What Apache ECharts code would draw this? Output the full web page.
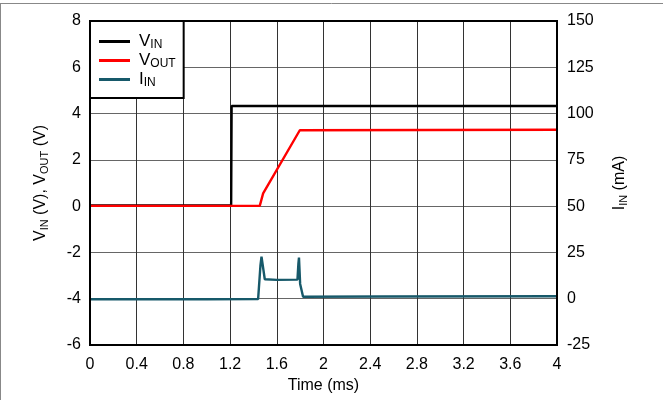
<!DOCTYPE html>
<html>
<head>
<meta charset="utf-8">
<script src="https://cdn.jsdelivr.net/npm/echarts@6/dist/echarts.min.js"></script>
<style>html,body{margin:0;padding:0;background:#fff}#c{width:663px;height:400px}</style>
</head>
<body>
<div id="c"></div>
<script>
// Time breakpoints (ms) and values
var vinTime = [0, 1.209, 1.213, 4];
var vinVal  = [0.03, 0.03, 4.33, 4.33];

var voutTime = [0, 1.454, 1.483, 1.797, 1.81, 4];
var voutVal  = [0.01, 0.01, 0.55, 3.28, 3.3, 3.3];

var iinTime = [0, 1.0, 1.44, 1.46, 1.469, 1.497, 1.6, 1.777, 1.785, 1.79, 1.80, 1.825, 2.5, 4];
var iinVal  = [-0.3, -0.3, -0.2, 18, 22.7, 10.5, 10.2, 10.3, 19, 22.2, 8, 1.1, 1.2, 1.3];

var xTicks = [0, 0.4, 0.8, 1.2, 1.6, 2, 2.4, 2.8, 3.2, 3.6, 4];

function pairs(t, v) { return t.map(function (x, i) { return [x, v[i]]; }); }

var FONT = 'Liberation Sans, Arial, sans-serif';
var sub = { fontSize: 11, fontFamily: FONT, color: '#000', verticalAlign: 'bottom', lineHeight: 13 };
var subLeg = { fontSize: 12, fontFamily: FONT, color: '#000', verticalAlign: 'bottom', lineHeight: 14 };

var chart = echarts.init(document.getElementById('c'), null, { renderer: 'canvas' });
chart.setOption({
  animation: false,
  backgroundColor: '#fff',
  grid: { left: 90, right: 106, top: 21, bottom: 55, show: true, borderColor: '#000', borderWidth: 2, backgroundColor: 'transparent', z: 3 },
  legend: {
    left: 90, top: 21, orient: 'vertical',
    backgroundColor: '#fff', borderColor: '#000', borderWidth: 2, borderRadius: 0,
    padding: [11, 8, 9, 9], itemGap: 0,
    itemWidth: 31, itemHeight: 3, icon: 'rect',
    formatter: function (n) { return { 'VIN': 'V{s|IN}', 'VOUT': 'V{s|OUT}', 'IIN': 'I{s|IN}' }[n]; },
    textStyle: { fontSize: 17, fontFamily: FONT, color: '#000', lineHeight: 19, padding: [0, 0, 0, 4], rich: { s: subLeg } },
    data: ['VIN', 'VOUT', 'IIN']
  },
  xAxis: {
    type: 'value', min: 0, max: 4, interval: 0.4,
    name: 'Time (ms)', nameLocation: 'middle', nameGap: 33,
    nameTextStyle: { fontSize: 16, fontFamily: FONT, color: '#000' },
    axisLine: { show: false }, axisTick: { show: false },
    axisLabel: { fontSize: 16, fontFamily: FONT, color: '#000', margin: 12,
      formatter: function (v) { var t = xTicks.filter(function (k) { return Math.abs(k - v) < 1e-6; }); return t.length ? String(t[0]) : ''; } },
    splitLine: { show: true, lineStyle: { color: '#333', width: 1 } }
  },
  yAxis: [{
    type: 'value', min: -6, max: 8, interval: 2, position: 'left',
    name: 'V{s|IN} (V), V{s|OUT} (V)', nameLocation: 'middle', nameGap: 40, nameRotate: 90,
    nameTextStyle: { fontSize: 16, fontFamily: FONT, color: '#000', lineHeight: 19, rich: { s: sub } },
    axisLine: { show: false }, axisTick: { show: false },
    axisLabel: { fontSize: 16, fontFamily: FONT, color: '#000', margin: 9 },
    splitLine: { show: true, lineStyle: { color: '#666', width: 1 } }
  }, {
    type: 'value', min: -25, max: 150, interval: 25, position: 'right',
    name: 'I{s|IN} (mA)', nameLocation: 'middle', nameGap: 53, nameRotate: 90,
    nameTextStyle: { fontSize: 16, fontFamily: FONT, color: '#000', lineHeight: 19, rich: { s: sub } },
    axisLine: { show: false }, axisTick: { show: false },
    axisLabel: { fontSize: 16, fontFamily: FONT, color: '#000', margin: 10 },
    splitLine: { show: false }
  }],
  series: [
    { name: 'VIN', type: 'line', yAxisIndex: 0, data: pairs(vinTime, vinVal), showSymbol: false, symbol: 'none',
      lineStyle: { color: '#000', width: 2.4 }, itemStyle: { color: '#000' }, z: 2 },
    { name: 'VOUT', type: 'line', yAxisIndex: 0, data: pairs(voutTime, voutVal), showSymbol: false, symbol: 'none',
      lineStyle: { color: '#ff0000', width: 2.4 }, itemStyle: { color: '#ff0000' }, z: 2 },
    { name: 'IIN', type: 'line', yAxisIndex: 1, data: pairs(iinTime, iinVal), showSymbol: false, symbol: 'none',
      lineStyle: { color: '#17596a', width: 2.4 }, itemStyle: { color: '#17596a' }, z: 2 }
  ],
  graphic: [
    { type: 'line', shape: { x1: 0, y1: 3.5, x2: 663, y2: 3.5 }, style: { stroke: '#888', lineWidth: 1 } },
    { type: 'line', shape: { x1: 0.5, y1: 3, x2: 0.5, y2: 400 }, style: { stroke: '#888', lineWidth: 1 } }
  ]
});
</script>
</body>
</html>
